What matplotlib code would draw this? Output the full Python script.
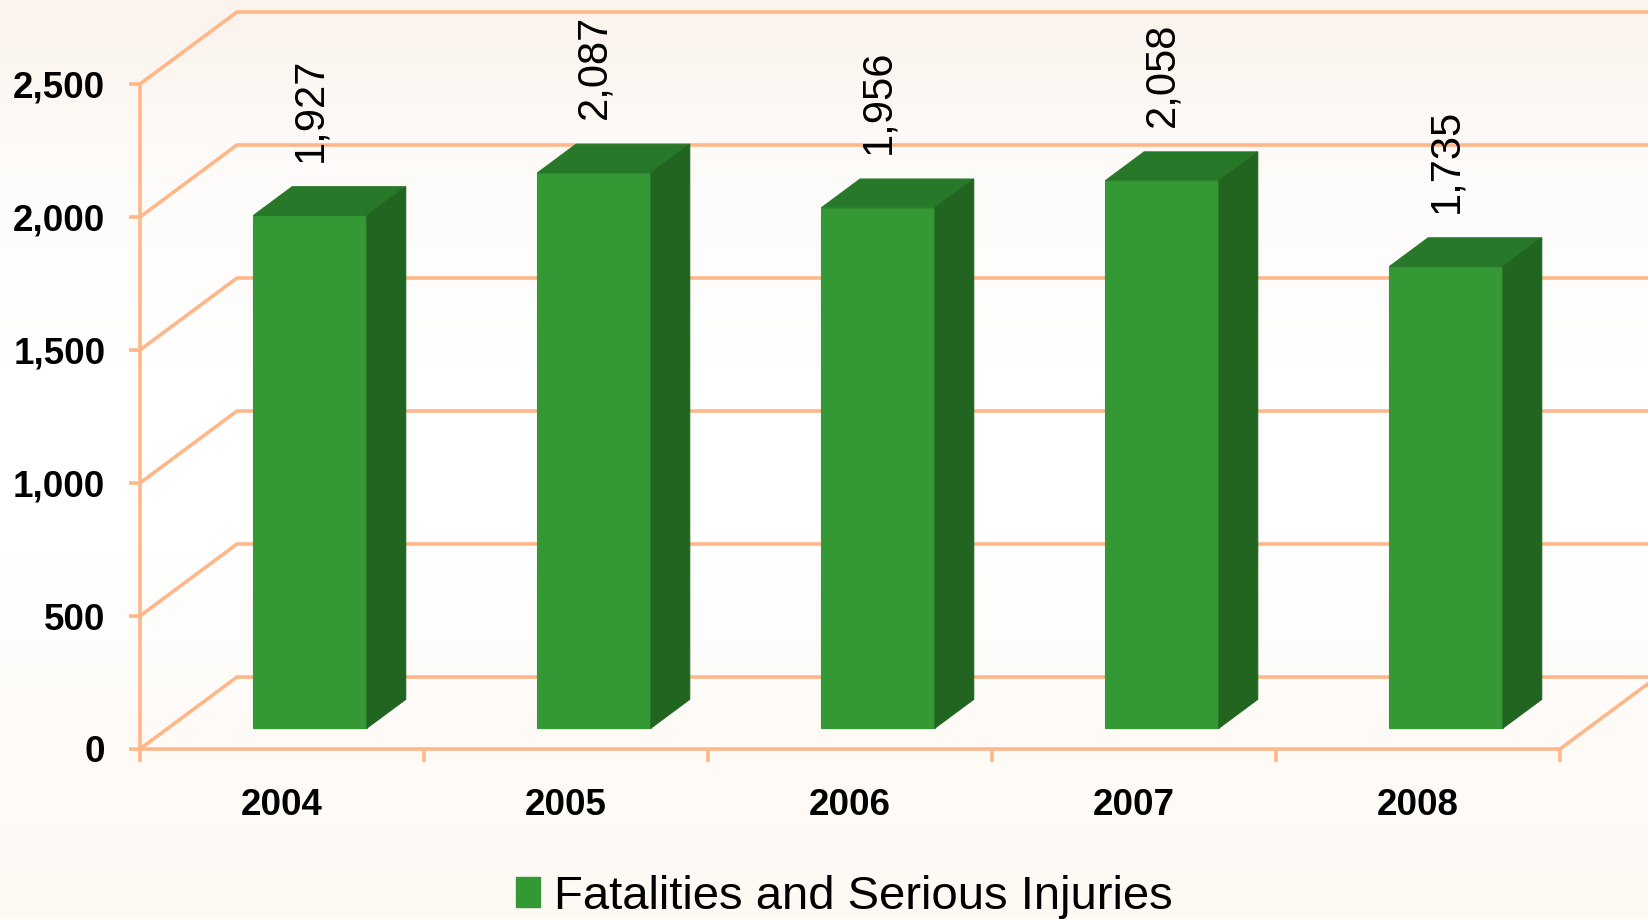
import numpy as np
import matplotlib
matplotlib.use('Agg')
import matplotlib.pyplot as plt
from matplotlib.patches import Polygon, Patch
from matplotlib.lines import Line2D
from matplotlib.transforms import IdentityTransform

plt.rcParams['font.family'] = ['Liberation Sans', 'DejaVu Sans']

# --- datos ---
years = ['2004', '2005', '2006', '2007', '2008']
fatalities = [1927, 2087, 1956, 2058, 1735]
y_ticks = [0, 500, 1000, 1500, 2000, 2500]
serie = 'Fatalities and Serious Injuries'

# colores
c_front = '#349934'
c_top = '#28782a'
c_side = '#216521'
c_grid = '#ffb78a'

W, H = 1649, 919
fig = plt.figure(figsize=(W / 100, H / 100), dpi=100)

# fondo con degradado suave
bg = fig.add_axes([0, 0, 1, 1], zorder=-10)
stops = np.array([[251, 243, 236], [254, 252, 250], [255, 255, 255],
                  [255, 255, 255], [254, 251, 247], [254, 249, 243]]) / 255.0
pos = np.linspace(0, 1, len(stops))
yy = np.linspace(0, 1, 300)
grad = np.stack([np.interp(yy, pos, stops[:, k]) for k in range(3)], axis=1)
bg.imshow(grad[:, None, :], aspect='auto', extent=[0, 1, 0, 1], origin='upper')
bg.axis('off')

ax = fig.add_axes([140 / W, 170 / H, 1420 / W, 665 / H])
ax.patch.set_alpha(0)
ax.set_xlim(0, len(years))
ax.set_ylim(0, 2500)

DEPTH = np.array([97.0, 72.0])  # desplazamiento de la pared del fondo (px)
f_front, f_back = 0.29, 0.69     # profundidad de las barras
bar_w = 0.40


def pt(x, y, f=0.0):
    return ax.transData.transform((x, y)) + f * DEPTH


def line(points, **kw):
    xs, ys = zip(*points)
    ax.add_line(Line2D(xs, ys, transform=IdentityTransform(), clip_on=False, **kw))


# rejilla en perspectiva
for v in y_ticks:
    line([pt(0, v), pt(0, v, 1), pt(len(years), v, 1)], color=c_grid, lw=2.6, zorder=1)
line([pt(len(years), 0), pt(len(years), 0, 1)], color=c_grid, lw=2.6, zorder=1)

# barras 3D
for i, v in enumerate(fatalities):
    x0 = i + 0.5 - bar_w / 2
    x1 = i + 0.5 + bar_w / 2
    front = [pt(x0, 0, f_front), pt(x1, 0, f_front), pt(x1, v, f_front), pt(x0, v, f_front)]
    top = [pt(x0, v, f_front), pt(x1, v, f_front), pt(x1, v, f_back), pt(x0, v, f_back)]
    side = [pt(x1, 0, f_front), pt(x1, v, f_front), pt(x1, v, f_back), pt(x1, 0, f_back)]
    for poly, c in [(front, c_front), (top, c_top), (side, c_side)]:
        ax.add_patch(Polygon(poly, closed=True, facecolor=c, edgecolor=c, lw=0.8,
                             transform=IdentityTransform(), clip_on=False, zorder=3))
    # etiqueta del valor
    lx, _ = pt(i + 0.5, v, f_front)
    _, ly = pt(i + 0.5, v, f_back)
    ax.text(lx, ly + 25, f'{v:,}', rotation=90, ha='center', va='bottom',
            fontsize=30, transform=IdentityTransform(), clip_on=False, zorder=4)

# ejes
for s in ['top', 'right']:
    ax.spines[s].set_visible(False)
for s in ['left', 'bottom']:
    ax.spines[s].set_color(c_grid)
    ax.spines[s].set_linewidth(2.6)

ax.set_yticks(y_ticks)
ax.set_yticklabels([f'{v:,}' for v in y_ticks], fontsize=26.5, fontweight='bold')
ax.tick_params(axis='y', length=8, width=2.6, color=c_grid, pad=17)

ax.set_xticks(np.arange(len(years) + 1))
ax.set_xticklabels([''] * (len(years) + 1))
ax.tick_params(axis='x', which='major', length=9.5, width=2.6, color=c_grid)
ax.set_xticks(np.arange(len(years)) + 0.5, minor=True)
ax.set_xticklabels(years, minor=True, fontsize=26.5, fontweight='bold')
ax.tick_params(axis='x', which='minor', length=0, pad=28)

fig.legend(handles=[Patch(facecolor=c_front, edgecolor=c_front)], labels=[serie],
           loc='center', bbox_to_anchor=(0.512, 0.024), frameon=False, fontsize=34,
           handlelength=0.5, handleheight=0.6, handletextpad=0.3)

fig.savefig('out.png', dpi=100)
